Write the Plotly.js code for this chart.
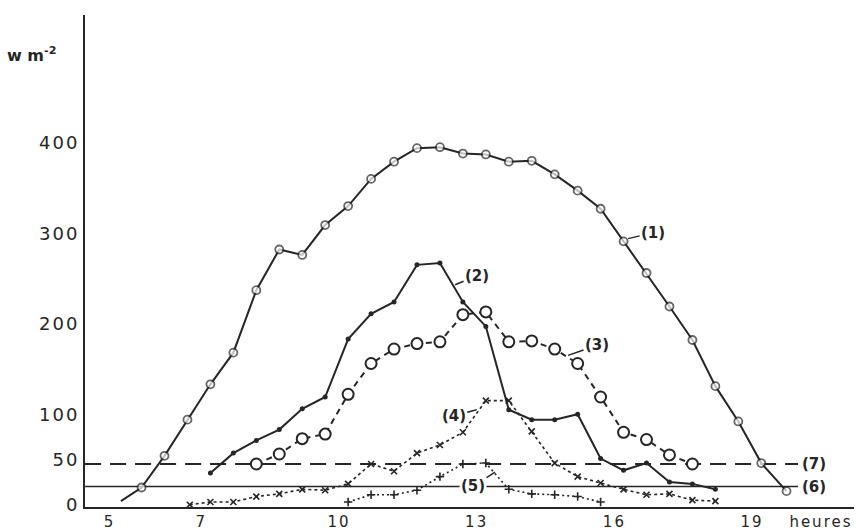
<!DOCTYPE html>
<html><head><meta charset="utf-8">
<script src="https://cdn.plot.ly/plotly-3.0.1.min.js"></script>
<style>
html,body{margin:0;padding:0;background:#fff;}
#chart{width:856px;height:532px;}
.xtick text,.ytick text{letter-spacing:2px;}
</style></head>
<body><div id="chart"></div>
<script>
const ink = '#262626';

// Curve (1)
const time1 = [5.25,5.7,6.2,6.7,7.2,7.7,8.2,8.7,9.2,9.7,10.2,10.7,11.2,11.7,12.2,12.7,13.2,13.7,14.2,14.7,15.2,15.7,16.2,16.7,17.2,17.7,18.2,18.7,19.2,19.75];
const flux1 = [4,19,54,94,133,168,237,282,276,309,330,360,379,394,395,388,387,379,380,365,347,327,291,256,219,182,131,92,46,15];
// Curve (2)
const time2 = [7.2,7.7,8.2,8.7,9.2,9.7,10.2,10.7,11.2,11.7,12.2,12.7,13.2,13.7,14.2,14.7,15.2,15.7,16.2,16.7,17.2,17.7,18.2];
const flux2 = [35,57,71,83,106,119,183,211,224,265,267,224,197,105,94,94,100,51,38,46,25,23,17];
// Curve (3)
const time3 = [8.2,8.7,9.2,9.7,10.2,10.7,11.2,11.7,12.2,12.7,13.2,13.7,14.2,14.7,15.2,15.7,16.2,16.7,17.2,17.7];
const flux3 = [45,56,73,78,122,156,172,178,180,210,213,180,181,172,156,119,80,72,55,45];
// Curve (4)
const time4 = [6.75,7.2,7.7,8.2,8.7,9.2,9.7,10.2,10.7,11.2,11.7,12.2,12.7,13.2,13.7,14.2,14.7,15.2,15.7,16.2,16.7,17.2,17.7,18.2];
const flux4 = [0,3,3,9,12,17,16,23,45,37,57,66,80,115,115,81,46,31,24,17,11,12,5,4];
// Curve (5)
const time5 = [10.2,10.7,11.2,11.7,12.2,12.7,13.2,13.7,14.2,14.7,15.2,15.7];
const flux5 = [3,11,11,16,31,45,46,17,12,11,9,3];
// Reference levels (6) and (7)
const level6 = 20;
const level7 = 45;
const levelSpan = [4.47, 20.0];

// Axis ticks
const xTickVals = [5,7,10,13,16,19,20.5];
const xTickText = ['5','7','10','13','16','19','heures'];
const yTickVals = [0,50,100,200,300,400];
const yTickText = ['0','50','100','200','300','400'];

const sizes1 = time1.map((t,i) => i === 0 ? 0 : 8);

const traces = [
  {x: levelSpan, y: [level7, level7], mode:'lines', line:{color:ink, width:2, dash:'16px,9px'}, hoverinfo:'skip'},
  {x: levelSpan, y: [level6, level6], mode:'lines', line:{color:ink, width:1.5}, hoverinfo:'skip'},
  {x: time5, y: flux5, mode:'lines+markers', line:{color:ink, width:1.6, dash:'2px,3px'},
   marker:{symbol:'cross-thin-open', size:6, line:{color:ink, width:1.6}}},
  {x: time4, y: flux4, mode:'lines+markers', line:{color:ink, width:1.6, dash:'3px,3px'},
   marker:{symbol:'x-thin-open', size:6, line:{color:ink, width:1.6}}},
  {x: time3, y: flux3, mode:'lines+markers', line:{color:ink, width:2, dash:'6px,5px'},
   marker:{symbol:'circle', size:11, color:'#fff', line:{color:ink, width:2}}},
  {x: time2, y: flux2, mode:'lines+markers', line:{color:ink, width:2},
   marker:{symbol:'circle', size:5, color:ink}},
  {x: time1, y: flux1, mode:'lines+markers', line:{color:ink, width:2},
   marker:{symbol:'circle', size:sizes1, color:'#fff', line:{color:ink, width:1.8}}}
];

const labFont = {family:'DejaVu Sans', size:15, color:ink, weight:'bold'};
function lab(text, x, y, ax, ay, arrow){
  return {text, x, y, xref:'x', yref:'y', ax, ay, showarrow: arrow, arrowhead:0,
          arrowwidth:1.5, arrowcolor:ink, font:labFont, bgcolor:'rgba(255,255,255,0)'};
}

const layout = {
  width:856, height:532,
  margin:{l:85, r:2, t:15, b:25},
  paper_bgcolor:'#fff', plot_bgcolor:'#fff',
  showlegend:false,
  font:{family:'DejaVu Sans', color:ink},
  xaxis:{range:[4.468, 21.22], showline:true, linewidth:2, linecolor:ink, showgrid:false,
         zeroline:false, ticks:'', tickvals:xTickVals, ticktext:xTickText,
         tickfont:{family:'DejaVu Sans', size:15, color:ink}},
  yaxis:{range:[-2.54, 541.1], showline:true, linewidth:2, linecolor:ink, showgrid:false,
         zeroline:false, ticks:'', tickvals:yTickVals, ticktext:yTickText,
         tickfont:{family:'DejaVu Sans', size:18, color:ink}},
  annotations:[
    lab('(1)', 16.3, 294, 25, -6, true),
    lab('(2)', 12.53, 243, 22, -9, true),
    lab('(3)', 14.99, 165, 29, -10, true),
    lab('(4)', 13.0, 105, -23, 6, true),
    Object.assign(lab('(5)', 13.4, 36, -22, 14, true), {bgcolor:'#fff'}),
    lab('(6)', 20.35, level6, 0, 0, false),
    lab('(7)', 20.35, level7, 0, 0, false),
    {text:'w m<sup>-2</sup>', xref:'paper', yref:'paper', x:-0.07, y:0.92, xanchor:'center', yanchor:'middle',
     showarrow:false, font:{family:'DejaVu Sans', size:16, color:ink, weight:'bold'}}
  ]
};

Plotly.newPlot('chart', traces, layout, {staticPlot:true, displayModeBar:false});
</script>
</body></html>
